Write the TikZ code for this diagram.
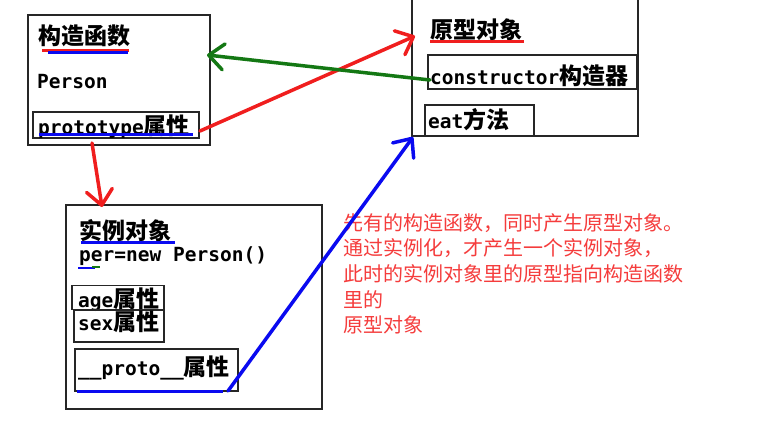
\documentclass[tikz,border=0pt]{standalone}
\usepackage{fontspec}
\setmainfont{DejaVu Sans Mono}
\newfontfamily\cjk{Noto Sans CJK SC}
\usetikzlibrary{arrows.meta}
\definecolor{pred}{RGB}{240,30,30}
\definecolor{pgreen}{RGB}{20,120,20}
\definecolor{pblue}{RGB}{10,10,240}
\definecolor{notered}{RGB}{245,60,60}
\newcommand\lt[1]{{\fontsize{19.5}{24}\selectfont\bfseries #1}}
\newcommand\ck[1]{{\fontsize{23}{26}\selectfont\cjk\bfseries #1}}
\newcommand\nt[1]{{\fontsize{20}{24}\selectfont\cjk #1}}
\tikzset{
  bigbox/.style={draw=black!85, line width=1.2pt, inner sep=0pt},
  smallbox/.style={draw=black!85, line width=1.2pt, inner sep=0pt},
  txt/.style={anchor=west, inner sep=0pt},
  notetxt/.style={anchor=west, inner sep=0pt, text=notered},
  ulmark/.style={line width=3pt},
  conn/.style={line width=3.5pt, line cap=round, -{Straight Barb[length=15pt,width=26pt,round]}},
}
\begin{document}
\begin{tikzpicture}[x=1pt,y=-1pt]
\fill[white] (0,0) rectangle (760,422);
\useasboundingbox (0,0) rectangle (760,422);
% constructor function box
\draw[bigbox] (28,15) rectangle (210,145);
\node[txt] (ctitle) at (38,36) {\ck{构造函数}};
\draw[ulmark, pred] (42,51) -- (129,51);
\draw[ulmark, pblue] (48,53) -- (128,53);
\node[txt] (person) at (37,82) {\lt{Person}};
\node[smallbox, minimum width=166pt, minimum height=26pt] (protoattr) at (116,125) {};
\node[txt] (protoattrtxt) at (38,127) {\lt{prototype}\ck{属性}};
\draw[ulmark, pblue] (39,135) -- (193,135);
% prototype object box
\draw[bigbox] (412,-5) rectangle (638,136);
\node[txt] (ptitle) at (430,30) {\ck{原型对象}};
\draw[ulmark, pred] (430,42) -- (524,42);
\node[smallbox, minimum width=209pt, minimum height=34pt] (ctorbox) at (532.5,72) {};
\node[txt] (ctortxt) at (430,76) {\lt{constructor}\ck{构造器}};
\node[smallbox, minimum width=109pt, minimum height=31pt] (eatbox) at (479.5,120.5) {};
\node[txt] (eattxt) at (428,120) {\lt{eat}\ck{方法}};
% instance object box
\draw[bigbox] (66,205) rectangle (322,409);
\node[txt] (ititle) at (79,231) {\ck{实例对象}};
\draw[ulmark, pblue] (81,242) -- (175,242);
\node[txt] (pertxt) at (79,256) {\lt{per=new Person()}};
\draw[line width=2.5pt, pblue] (78,268) -- (95,268);
\draw[line width=2.5pt, pgreen] (92,267) -- (100,267);
\node[smallbox, minimum width=92pt, minimum height=24pt] (agebox) at (118,297.5) {};
\node[txt] (agetxt) at (78,300) {\lt{age}\ck{属性}};
\node[smallbox, minimum width=90pt, minimum height=32pt] (sexbox) at (119,326) {};
\node[txt] (sextxt) at (78,322) {\lt{sex}\ck{属性}};
\node[smallbox, minimum width=163pt, minimum height=42pt] (protobox) at (156.5,370) {};
\node[txt] (prototxt) at (78,368) {\lt{\_\_proto\_\_}\ck{属性}};
\draw[ulmark, pblue] (77,391) -- (223,391);
% note
\node[notetxt] (n1) at (343,223) {\nt{先有的构造函数，同时产生原型对象。}};
\node[notetxt] (n2) at (343,248.5) {\nt{通过实例化，才产生一个实例对象，}};
\node[notetxt] (n3) at (343,274) {\nt{此时的实例对象里的原型指向构造函数}};
\node[notetxt] (n4) at (343,299.5) {\nt{里的}};
\node[notetxt] (n5) at (343,325) {\nt{原型对象}};
% connectors
\coordinate (a1s) at (200,131);
\coordinate (a1e) at (415,36);
\coordinate (a2s) at (430,80);
\coordinate (a2e) at (207,55);
\coordinate (a3s) at (92,143);
\coordinate (a3e) at (102,207);
\coordinate (a4s) at (228,391);
\coordinate (a4e) at (413,137);
\draw[conn, pred] (a1s) -- (a1e);
\draw[conn, pgreen] (a2s) -- (a2e);
\draw[conn, pred] (a3s) -- (a3e);
\draw[conn, pblue] (a4s) -- (a4e);
\end{tikzpicture}
\end{document}
